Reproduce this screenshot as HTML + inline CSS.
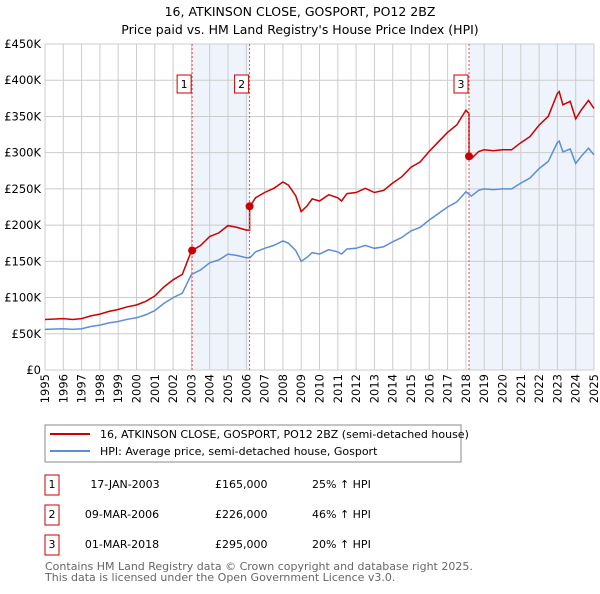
<!DOCTYPE html>
<html><head><meta charset="utf-8"><style>
body{margin:0;background:#fff;font-family:"DejaVu Sans","Liberation Sans",sans-serif;}
</style></head><body>
<svg width="600" height="590" xmlns="http://www.w3.org/2000/svg" font-family="DejaVu Sans, Liberation Sans, sans-serif">
<text x="300" y="16" text-anchor="middle" font-size="12.5">16, ATKINSON CLOSE, GOSPORT, PO12 2BZ</text>
<text x="300" y="34" text-anchor="middle" font-size="12.5">Price paid vs. HM Land Registry's House Price Index (HPI)</text>
<g id="plot"></g>
<rect x="45" y="425" width="416" height="37" fill="#fff" stroke="#888"/>
<line x1="50" y1="434" x2="90" y2="434" stroke="#cc0000" stroke-width="2"/>
<text x="100" y="438" font-size="11">16, ATKINSON CLOSE, GOSPORT, PO12 2BZ (semi-detached house)</text>
<line x1="50" y1="451" x2="90" y2="451" stroke="#5b8fd4" stroke-width="2"/>
<text x="100" y="455" font-size="11">HPI: Average price, semi-detached house, Gosport</text>
<g font-size="11">
<rect x="45" y="475" width="14" height="20" fill="#fff" stroke="#cc0000"/><text x="52" y="488" text-anchor="middle">1</text>
<text x="125" y="488" text-anchor="middle">17-JAN-2003</text><text x="215" y="488">£165,000</text><text x="312" y="488">25% ↑ HPI</text>
<rect x="45" y="505" width="14" height="20" fill="#fff" stroke="#cc0000"/><text x="52" y="518" text-anchor="middle">2</text>
<text x="122" y="518" text-anchor="middle">09-MAR-2006</text><text x="215" y="518">£226,000</text><text x="312" y="518">46% ↑ HPI</text>
<rect x="45" y="535" width="14" height="20" fill="#fff" stroke="#cc0000"/><text x="52" y="548" text-anchor="middle">3</text>
<text x="122" y="548" text-anchor="middle">01-MAR-2018</text><text x="215" y="548">£295,000</text><text x="312" y="548">20% ↑ HPI</text>
</g>
<text x="45" y="570" font-size="11" fill="#666">Contains HM Land Registry data © Crown copyright and database right 2025.</text>
<text x="45" y="581" font-size="11" fill="#666">This data is licensed under the Open Government Licence v3.0.</text>
</svg>
<script>
const hpiYears=[1995,1996,1996.5,1997,1997.5,1998,1998.5,1999,1999.5,2000,2000.5,2001,2001.5,2002,2002.5,2003,2003.5,2004,2004.5,2005,2005.5,2006,2006.2,2006.5,2007,2007.5,2008,2008.3,2008.7,2009,2009.3,2009.6,2010,2010.5,2011,2011.2,2011.5,2012,2012.5,2013,2013.5,2014,2014.5,2015,2015.5,2016,2016.5,2017,2017.5,2018,2018.3,2018.7,2019,2019.5,2020,2020.5,2021,2021.5,2022,2022.5,2023,2023.1,2023.3,2023.7,2024,2024.3,2024.7,2025];
const hpiValues=[56,57,56,57,60,62,65,67,70,72,76,82,92,100,106,132,138,148,152,160,158,155,155,163,168,172,178,175,165,150,155,162,160,166,163,160,167,168,172,168,170,177,183,192,197,207,216,225,232,246,240,248,250,249,250,250,258,265,278,288,314,316,301,305,285,295,306,297];
const saleYears=[2003.04,2006.18,2018.17];
const salePrices=[165,226,295];
const saleLabels=["1","2","3"];
const yTicks=[0,50,100,150,200,250,300,350,400,450];
const yTickLabels=["£0","£50K","£100K","£150K","£200K","£250K","£300K","£350K","£400K","£450K"];
const xTicks=[1995,1996,1997,1998,1999,2000,2001,2002,2003,2004,2005,2006,2007,2008,2009,2010,2011,2012,2013,2014,2015,2016,2017,2018,2019,2020,2021,2022,2023,2024,2025];

const NS="http://www.w3.org/2000/svg";
const L=45,R=594,T=44,B=370;
const xs=y=>L+(y-1995)/30*(R-L);
const ys=v=>B-v/450*(B-T);
const g=document.getElementById('plot');
function mk(t,a){const e=document.createElementNS(NS,t);for(const k in a)e.setAttribute(k,a[k]);g.appendChild(e);return e;}
function hpiAt(y){for(let i=1;i<hpiYears.length;i++){if(y<=hpiYears[i]){const f=(y-hpiYears[i-1])/(hpiYears[i]-hpiYears[i-1]);return hpiValues[i-1]+f*(hpiValues[i]-hpiValues[i-1]);}}return hpiValues[hpiValues.length-1];}
let s1=mk('rect',{x:xs(saleYears[0]),y:T,width:xs(saleYears[1])-xs(saleYears[0]),height:B-T,fill:'#eef3fc'});


let s2=mk('rect',{x:xs(saleYears[2]),y:T,width:R-xs(saleYears[2]),height:B-T,fill:'#eef3fc'});


yTicks.forEach((v,i)=>{
 let l=mk('line',{x1:L,x2:R,y1:ys(v),y2:ys(v),stroke:'#ccc'});
 
 
 let t=mk('text',{x:L-4,y:ys(v)+4,'text-anchor':'end','font-size':'11.5'});t.textContent=yTickLabels[i];
 
 
});
xTicks.forEach(y=>{
 let l=mk('line',{x1:xs(y),x2:xs(y),y1:T,y2:B,stroke:'#ccc'});
 
 
 let t=mk('text',{x:0,y:0,'text-anchor':'end','font-size':'11.5',transform:'translate('+(xs(y)+4).toFixed(1)+',374) rotate(-90)'});t.textContent=y;
 
 
});
let d=hpiYears.map((y,i)=>(i?'L':'M')+xs(y).toFixed(1)+','+ys(hpiValues[i]).toFixed(1)).join('');
let hl=mk('path',{d:d,fill:'none',stroke:'#5b8fd4','stroke-width':1.5});


const ratios=saleYears.map((y,i)=>salePrices[i]/hpiAt(y));
function ratioAt(y){let r=ratios[0];for(let i=0;i<saleYears.length;i++)if(y>=saleYears[i])r=ratios[i];return r;}
let pts=[];
let allY=hpiYears.concat(saleYears.map(s=>s-0.001)).concat(saleYears).sort((a,b)=>a-b);
allY.forEach(y=>pts.push([xs(y),ys(hpiAt(y)*ratioAt(y))]));
let pl=mk('path',{d:pts.map((p,i)=>(i?'L':'M')+p[0].toFixed(1)+','+p[1].toFixed(1)).join(''),fill:'none',stroke:'#cc0000','stroke-width':1.5});


saleYears.forEach((y,i)=>{
 let l=mk('line',{x1:xs(y),x2:xs(y),y1:T,y2:B,stroke:'#e05555','stroke-dasharray':'2,2'});
 
 
 let b=mk('rect',{x:xs(y)-15,y:75,width:14,height:18,fill:'#fff',stroke:'#cc0000'});
 
 
 let t=mk('text',{x:xs(y)-8,y:88,'text-anchor':'middle','font-size':'11'});t.textContent=saleLabels[i];
 
 
 let c=mk('circle',{cx:xs(y),cy:ys(salePrices[i]),r:4,fill:'#cc0000'});
 
 
});
</script>
</body></html>
